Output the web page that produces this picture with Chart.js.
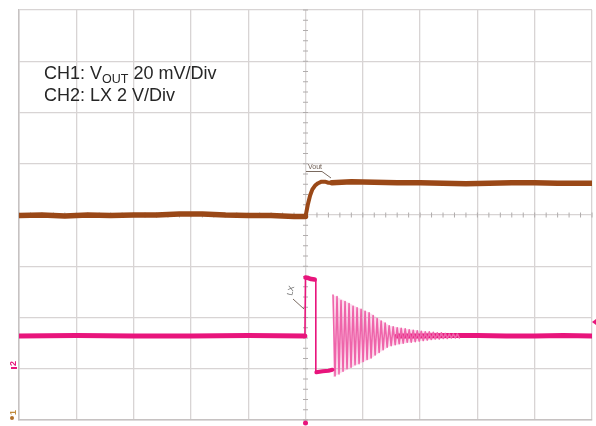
<!DOCTYPE html>
<html>
<head>
<meta charset="utf-8">
<script src="https://cdn.jsdelivr.net/npm/chart.js@4.4.1/dist/chart.umd.min.js"></script>
<style>
  html, body { margin: 0; padding: 0; background: #fff; }
  #wrap { position: relative; width: 596px; height: 426px; }
  #note { position: absolute; left: 44px; top: 63px; font-family: "Liberation Sans", Arial, sans-serif;
          font-size: 18px; color: #262626; line-height: 21.5px; }
  #note div { height: 21.5px; white-space: nowrap; }
  #note .sub { font-size: 12.5px; position: relative; top: 4px; }
</style>
</head>
<body>
<div id="wrap">
  <canvas id="scope" width="596" height="426"></canvas>
  <div id="note">
    <div>CH1: V<span class="sub">OUT</span> 20 mV/Div</div>
    <div>CH2: LX 2 V/Div</div>
  </div>
</div>
<script>

// CH1 Vout (brown)
var voutPreT = [0, 0.4, 0.8, 1.2, 1.6, 2.0, 2.4, 2.8, 3.2, 3.6, 4.0, 4.4, 4.8, 5.0];
var voutPreV = [3.99, 4.0, 3.98, 4.0, 3.99, 4.0, 4.0, 4.02, 4.02, 4.0, 3.99, 3.99, 3.97, 3.97];
var voutStepT = [5.0, 5.04, 5.08, 5.12, 5.17, 5.22, 5.28, 5.34, 5.40, 5.46];
var voutStepV = [3.97, 4.2, 4.38, 4.5, 4.58, 4.62, 4.65, 4.65, 4.63, 4.63];
var voutPostT = [5.46, 5.8, 6.2, 6.6, 7.0, 7.4, 7.8, 8.2, 8.6, 9.0, 9.4, 9.8, 10];
var voutPostV = [4.63, 4.65, 4.64, 4.63, 4.63, 4.62, 4.61, 4.62, 4.63, 4.63, 4.62, 4.62, 4.62];

// CH2 LX (pink)
var lxPreT = [0, 1, 2, 3, 4, 4.99];
var lxPreV = [1.64, 1.65, 1.64, 1.64, 1.65, 1.64];
var lxEdgeT = [4.99, 5.0, 5.18, 5.18, 5.48];
var lxEdgeV = [1.64, 2.79, 2.74, 0.94, 0.98];
var lxHighT = [5.0, 5.05, 5.1, 5.16];
var lxHighV = [2.78, 2.77, 2.75, 2.74];
var lxLowT = [5.19, 5.3, 5.4, 5.47];
var lxLowV = [0.93, 0.95, 0.96, 0.98];
// ringing after the low pulse, one sample per scope point
var ringStart = 5.48;
var ringStep = 0.035;
var ringV = [2.44, 0.86, 2.41, 0.90, 2.33, 0.95, 2.31, 1.00, 2.27, 1.03,
             2.22, 1.08, 2.19, 1.10, 2.16, 1.14, 2.12, 1.18, 2.09, 1.21,
             2.04, 1.27, 1.98, 1.32, 1.93, 1.37, 1.89, 1.42, 1.84, 1.45,
             1.82, 1.47, 1.80, 1.49, 1.79, 1.50, 1.78, 1.52, 1.76, 1.52,
             1.75, 1.53, 1.74, 1.54, 1.73, 1.55, 1.72, 1.56, 1.72, 1.57,
             1.71, 1.58, 1.70, 1.58, 1.70, 1.59, 1.69, 1.59, 1.68, 1.60,
             1.68, 1.60, 1.68, 1.60];
// envelope of the ringing (light band behind it)
var ringEnvT = [5.48, 5.69, 5.92, 6.13, 6.30, 6.47, 6.74, 7.0, 7.35, 7.7];
var ringTopV = [2.44, 2.32, 2.19, 2.09, 1.96, 1.84, 1.78, 1.74, 1.70, 1.68];
var ringBotV = [0.84, 0.96, 1.09, 1.19, 1.32, 1.44, 1.50, 1.54, 1.58, 1.60];
var lxPostT = [6.6, 7, 7.5, 8, 8.5, 9, 9.5, 10];
var lxPostV = [1.64, 1.64, 1.65, 1.65, 1.64, 1.64, 1.65, 1.64];

var BROWN = '#9a4817';
var PINK = '#e8157c';
var PINK_RING = '#ef64aa';

function pts(t, v) {
    return t.map(function (x, i) { return { x: x, y: v[i] }; });
}
var ringPts = ringV.map(function (v, i) { return { x: ringStart + i * ringStep, y: v }; });

function trace(data, color, width) {
    return { data: data, borderColor: color, borderWidth: width, pointRadius: 0,
             fill: false, tension: 0, borderJoinStyle: 'round', borderCapStyle: 'round' };
}

var envTop = trace(pts(ringEnvT, ringTopV), 'rgba(0,0,0,0)', 0);
envTop.fill = '+1';
envTop.backgroundColor = 'rgba(242,130,190,0.28)';
var envBot = trace(pts(ringEnvT, ringBotV), 'rgba(0,0,0,0)', 0);

// center-axis ticks under the traces, small scope markers on top
var scopeMarks = {
    id: 'scopeMarks',
    beforeDatasetsDraw: function (chart) {
        var c = chart.ctx, xs = chart.scales.x, ys = chart.scales.y;
        var cx = xs.getPixelForValue(5), cy = ys.getPixelForValue(4);
        c.save();
        c.strokeStyle = '#b0acac';
        c.lineWidth = 1;
        c.beginPath();
        for (var i = 0; i <= 50; i++) {
            var px = xs.getPixelForValue(i * 0.2);
            c.moveTo(px, cy - 2.5); c.lineTo(px, cy + 2.5);
        }
        for (var j = 0; j <= 40; j++) {
            var py = ys.getPixelForValue(j * 0.2);
            c.moveTo(cx - 2.5, py); c.lineTo(cx + 2.5, py);
        }
        c.stroke();
        c.restore();
    },
    afterDraw: function (chart) {
        var c = chart.ctx, xs = chart.scales.x;
        var cx = xs.getPixelForValue(5);
        c.save();
        c.lineWidth = 1;

        // Vout label
        c.fillStyle = '#6b5a50';
        c.font = '7px "Liberation Sans", sans-serif';
        c.fillText('Vout', 308, 169);
        c.strokeStyle = '#7a6a60';
        c.beginPath();
        c.moveTo(306, 171.5); c.lineTo(322, 171.5); c.lineTo(331, 178);
        c.stroke();

        // LX label
        c.save();
        c.translate(292, 296);
        c.rotate(-Math.PI * 0.42);
        c.fillStyle = '#666';
        c.font = '8px "Liberation Sans", sans-serif';
        c.fillText('LX', 0, 0);
        c.restore();
        c.beginPath();
        c.moveTo(293, 299); c.lineTo(304, 309);
        c.stroke();

        // channel markers on the left
        c.save();
        c.translate(16, 366);
        c.rotate(-Math.PI / 2);
        c.fillStyle = PINK;
        c.font = 'bold 9px "Liberation Sans", sans-serif';
        c.fillText('2', 0, 0);
        c.restore();
        c.fillStyle = PINK;
        c.fillRect(11, 367, 6, 2);

        c.save();
        c.translate(16, 415);
        c.rotate(-Math.PI / 2);
        c.fillStyle = '#c08a3a';
        c.font = 'bold 9px "Liberation Sans", sans-serif';
        c.fillText('1', 0, 0);
        c.restore();
        c.fillStyle = '#b0702a';
        c.beginPath(); c.arc(12, 418, 2, 0, Math.PI * 2); c.fill();

        // trigger and level markers
        c.fillStyle = PINK;
        c.beginPath(); c.arc(cx, 423, 2.5, 0, Math.PI * 2); c.fill();
        c.beginPath(); c.moveTo(592, 322); c.lineTo(596, 319); c.lineTo(596, 325); c.closePath(); c.fill();
        c.restore();
    }
};

new Chart(document.getElementById('scope').getContext('2d'), {
    type: 'line',
    data: {
        datasets: [
            trace(pts(voutPreT, voutPreV), BROWN, 5.5),
            trace(pts(voutStepT, voutStepV), BROWN, 4),
            trace(pts(voutPostT, voutPostV), BROWN, 5.5),
            trace(pts(lxPreT, lxPreV), PINK, 5),
            trace(pts(lxEdgeT, lxEdgeV), PINK, 1.6),
            trace(pts(lxHighT, lxHighV), PINK, 4.5),
            trace(pts(lxLowT, lxLowV), PINK, 4),
            trace(ringPts, PINK_RING, 1.6),
            trace(pts(lxPostT, lxPostV), PINK, 5),
            envTop,
            envBot
        ]
    },
    options: {
        responsive: false,
        animation: false,
        layout: { padding: { left: 19, top: 10, right: 4, bottom: 6 } },
        plugins: { legend: { display: false }, tooltip: { enabled: false } },
        scales: {
            x: {
                type: 'linear', min: 0, max: 10,
                ticks: { display: false, stepSize: 1 },
                grid: { color: '#d8d4d4', lineWidth: 1.3, drawTicks: false },
                border: { color: '#c6c2c2', width: 1.5 }
            },
            y: {
                type: 'linear', min: 0, max: 8,
                ticks: { display: false, stepSize: 1 },
                grid: { color: '#d8d4d4', lineWidth: 1.3, drawTicks: false },
                border: { color: '#c6c2c2', width: 1.5 }
            }
        }
    },
    plugins: [scopeMarks]
});
</script>
</body>
</html>
